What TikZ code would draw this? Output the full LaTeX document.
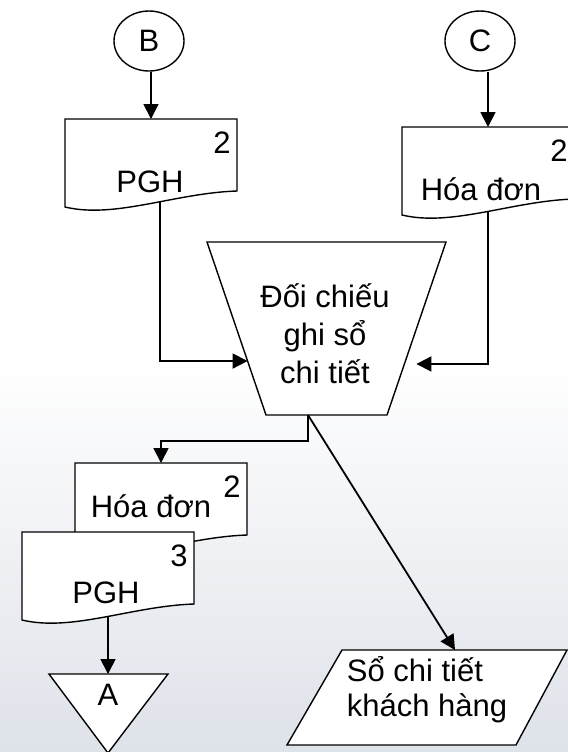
\documentclass[tikz,border=0pt]{standalone}
\usepackage{fontspec}
\setmainfont{Liberation Sans}
\usetikzlibrary{shapes.geometric,arrows.meta,calc}
\pgfdeclarelayer{paper}
\pgfdeclarelayer{background}
\pgfsetlayers{paper,background,main}

\tikzset{
  shape line/.style={draw=black, line width=0.7pt, fill=white},
  txt/.style={inner sep=0pt, font=\fontsize{15.5}{19}\selectfont},
  flow/.style={draw=black, line width=0.9pt, -{Triangle[length=7.5pt,width=7.5pt]}},
  offpage/.style={ellipse, shape line, txt, minimum width=35pt, minimum height=30pt},
  % document symbol: #1 label, #2/#3 label x and baseline, #4 copy number
  pics/docbox/.style n args={4}{code={
    \draw[shape line] (0,0) -- (172,0) -- (172,72)
      .. controls (110,74) and (50,100) .. (0,88) -- cycle;
    \coordinate (-top) at (86,0);
    \coordinate (-mid) at (86,45);
    \node[txt, anchor=base] (-label) at (#2,#3) {#1};
    \node[txt, anchor=base] (-num) at (157,34) {#4};
  }},
}

\begin{document}
\begin{tikzpicture}[x=0.5pt, y=-0.5pt]
  \useasboundingbox (0,0) rectangle (568,752);
  \clip (0,0) rectangle (568,752);

  % page background
  \begin{pgfonlayer}{paper}
    \fill[white] (0,0) rectangle (568,752);
    \shade[top color=white, bottom color={rgb,255:red,222;green,226;blue,233}]
      (0,360) rectangle (568,752);
  \end{pgfonlayer}

  % off-page connectors
  \node[offpage] (B) at (149,41) {B};
  \node[offpage] (C) at (480,41) {C};

  % incoming documents
  \pic (pgh) at (65,119) {docbox={PGH}{85}{73}{2}};
  \pic (hd1) at (402,127) {docbox={Hóa đơn}{79}{73}{2}};

  % manual operation
  \coordinate (tr-tl) at (207,242);
  \coordinate (tr-tr) at (446,242);
  \coordinate (tr-br) at (387,415);
  \coordinate (tr-bl) at (266,415);
  \draw[shape line] (tr-tl) -- (tr-tr) -- (tr-br) -- (tr-bl) -- cycle;
  \node[txt, align=center] (proc) at (325,334) {Đối chiếu\\ghi sổ\\chi tiết};
  \coordinate (inL) at ($(tr-tl)!0.688!(tr-bl)$);
  \coordinate (inR) at ($(tr-tr)!0.705!(tr-br)+(12,0)$);
  \coordinate (tb) at (308,415);

  % filed documents
  \pic (hd2) at (75,463) {docbox={Hóa đơn}{76}{54}{2}};
  \pic (pgh2) at (22,532) {docbox={PGH}{84}{71}{3}};

  % off-page reference A
  \draw[shape line] (49,674) -- (168,674) -- (108,753) -- cycle;
  \coordinate (A-top) at (108,674);
  \node[txt] (A) at (108,695) {A};

  % ledger (data)
  \draw[shape line] (342,650) -- (567,650) -- (516,745) -- (287,745) -- cycle;
  \coordinate (so-top) at (455,650);
  \node[txt, align=left, font=\fontsize{15.5}{17.5}\selectfont] (ledger) at (427,690)
    {Sổ chi tiết\\khách hàng};

  % flows
  \coordinate (j1) at (160,361);
  \coordinate (j2) at (488,364);
  \coordinate (j3) at (308,441);
  \draw[flow] (pgh-top |- B.south) -- (pgh-top);
  \draw[flow] (hd1-top |- C.south) -- (hd1-top);
  \begin{pgfonlayer}{background}
    \draw[flow] (pgh-mid -| j1) -- (j1) -- (inL);
    \draw[flow] (hd1-mid -| j2) -- (j2) -- (inR);
    \draw[flow] (pgh2-mid) -- (A-top);
  \end{pgfonlayer}
  \draw[flow] (tb) -- (j3) -| (hd2-top);
  \draw[flow] (tb) -- (so-top);
\end{tikzpicture}
\end{document}
